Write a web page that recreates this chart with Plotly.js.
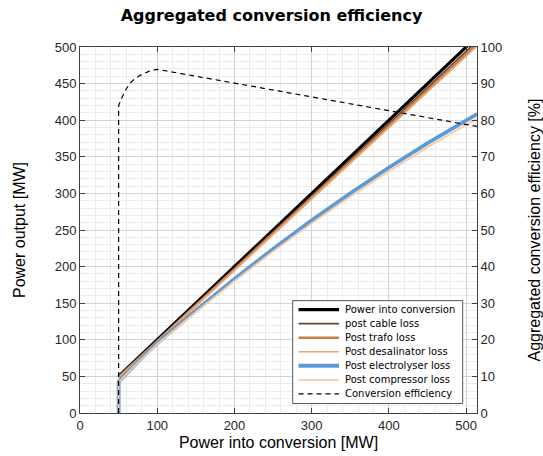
<!DOCTYPE html>
<html>
<head>
<meta charset="utf-8">
<script src="https://cdn.plot.ly/plotly-3.0.1.min.js"></script>
<style>html,body{margin:0;padding:0;background:#fff}#chart{width:543px;height:456px}</style>
</head>
<body>
<div id="chart"></div>
<script>
// Power into conversion [MW]
const powerIn = [50, 50, 55, 60, 65, 70, 80, 90, 100, 150, 200, 250, 300, 350, 400, 450, 500, 514];
// Outputs [MW] after each stage
const powerIntoConversion = [null, 50, 55, 60, 65, 70, 80, 90, 100, 150, 200, 250, 300, 350, 400, 450, 500, 514];
const postCable = [null, 49.4, 54.3, 59.3, 64.2, 69.2, 79.0, 88.9, 98.8, 148.2, 197.6, 247.0, 296.4, 345.8, 395.2, 444.6, 494.0, 507.8];
const postTrafo = [null, 49.0, 53.9, 58.8, 63.7, 68.6, 78.4, 88.2, 98.0, 147.0, 196.0, 245.0, 294.0, 343.0, 392.0, 441.0, 490.0, 503.7];
const postDesal = [null, 48.8, 53.6, 58.5, 63.4, 68.3, 78.0, 87.8, 97.5, 146.3, 195.0, 243.8, 292.5, 341.3, 390.0, 438.8, 487.5, 501.2];
const postElectrolyser = [0, 42.6, 48.3, 54.0, 59.5, 64.8, 75.1, 85.4, 95.3, 140.1, 183.1, 224.1, 263.1, 300.2, 335.4, 368.6, 399.9, 408.4];
const postCompressor = [0, 42.0, 47.6, 53.2, 58.6, 63.8, 74.0, 84.1, 93.9, 138.0, 180.4, 220.8, 259.2, 295.8, 330.4, 363.2, 394.0, 402.4];
// Aggregated conversion efficiency [%]
const efficiency = [0, 84.0, 86.5, 88.6, 90.1, 91.2, 92.5, 93.4, 93.9, 92.0, 90.2, 88.3, 86.4, 84.5, 82.6, 80.7, 78.8, 78.3];

const names = ["Power into conversion", "post cable loss", "Post trafo loss", "Post desalinator loss",
  "Post electrolyser loss", "Post compressor loss", "Conversion efficiency"];
const colors = ["#000000", "#6b4430", "#c5814a", "#f0a66c", "#5b9bd8", "#fdc89c", "#000000"];
const widths = [3.2, 1.8, 2.6, 1.6, 3.8, 1.8, 1.2];
const series = [powerIntoConversion, postCable, postTrafo, postDesal, postElectrolyser, postCompressor, efficiency];

const tickFont = {family: "Liberation Sans, Arial, sans-serif", size: 13, color: "#262626"};
const labelFont = {family: "Liberation Sans, Arial, sans-serif", size: 16, color: "#000"};
const effDash = "5px,4px";

const data = series.map((y, i) => ({
  x: powerIn, y: y, name: names[i], type: "scatter", mode: "lines",
  yaxis: i === 6 ? "y2" : "y",
  line: {color: colors[i], width: widths[i], dash: i === 6 ? effDash : "solid"},
  connectgaps: false, showlegend: false
}));

// Plot area in pixels (for placing the legend box)
const L = 80, R = 477, T = 47, B = 413.5;
const px = (x) => (x - L) / (R - L);
const py = (y) => (B - y) / (B - T);

const shapes = [{type: "rect", xref: "paper", yref: "paper", x0: px(292.7), x1: px(462.7), y0: py(404), y1: py(301),
  fillcolor: "#fff", line: {color: "#555", width: 1}, layer: "above"}];
const annotations = [];
names.forEach((n, i) => {
  const yc = 310 + i * 14.05;
  shapes.push({type: "line", xref: "paper", yref: "paper", x0: px(298.5), x1: px(339), y0: py(yc), y1: py(yc),
    line: {color: colors[i], width: widths[i], dash: i === 6 ? effDash : "solid"}, layer: "above"});
  annotations.push({xref: "paper", yref: "paper", x: px(343), y: py(yc), xanchor: "left", yanchor: "middle",
    text: n, showarrow: false, font: {family: "DejaVu Sans, sans-serif", size: 10, color: "#000"}});
});

const layout = {
  width: 543, height: 456,
  margin: {l: L, r: 543 - R, t: T, b: 456 - B},
  paper_bgcolor: "#fff", plot_bgcolor: "#fff",
  title: {text: "Aggregated conversion efficiency", x: 0.5, xref: "container", y: 0.978, yref: "container", yanchor: "top",
    font: {family: "DejaVu Sans, sans-serif", size: 16, weight: "bold", color: "#000"}},
  showlegend: false,
  shapes: shapes,
  annotations: annotations,
  xaxis: {
    range: [0, 514], dtick: 100, tick0: 0,
    title: {text: "Power into conversion [MW]", font: labelFont, standoff: 5},
    tickfont: tickFont, ticks: "inside", ticklen: 5, tickcolor: "#404040",
    showline: true, linecolor: "#404040", linewidth: 1, mirror: "ticks",
    showgrid: true, gridcolor: "#d4d4d4", gridwidth: 1, zeroline: false,
    minor: {dtick: 20, showgrid: true, gridcolor: "#ececec", gridwidth: 1},
    automargin: false
  },
  yaxis: {
    range: [0, 500], dtick: 50, tick0: 0,
    title: {text: "Power output [MW]", font: labelFont, standoff: 25},
    tickfont: tickFont, ticks: "inside", ticklen: 5, tickcolor: "#404040",
    showline: true, linecolor: "#404040", linewidth: 1, mirror: true,
    showgrid: true, gridcolor: "#d4d4d4", gridwidth: 1, zeroline: false,
    minor: {dtick: 10, showgrid: true, gridcolor: "#ececec", gridwidth: 1},
    automargin: false
  },
  yaxis2: {
    range: [0, 100], dtick: 10, tick0: 0, overlaying: "y", side: "right",
    title: {text: "Aggregated conversion efficiency [%]", font: labelFont, standoff: 33},
    tickfont: tickFont, ticks: "inside", ticklen: 5, tickcolor: "#404040",
    showline: true, linecolor: "#404040", linewidth: 1,
    showgrid: false, zeroline: false, automargin: false
  }
};

Plotly.newPlot("chart", data, layout, {displayModeBar: false, staticPlot: true});
</script>
</body>
</html>
